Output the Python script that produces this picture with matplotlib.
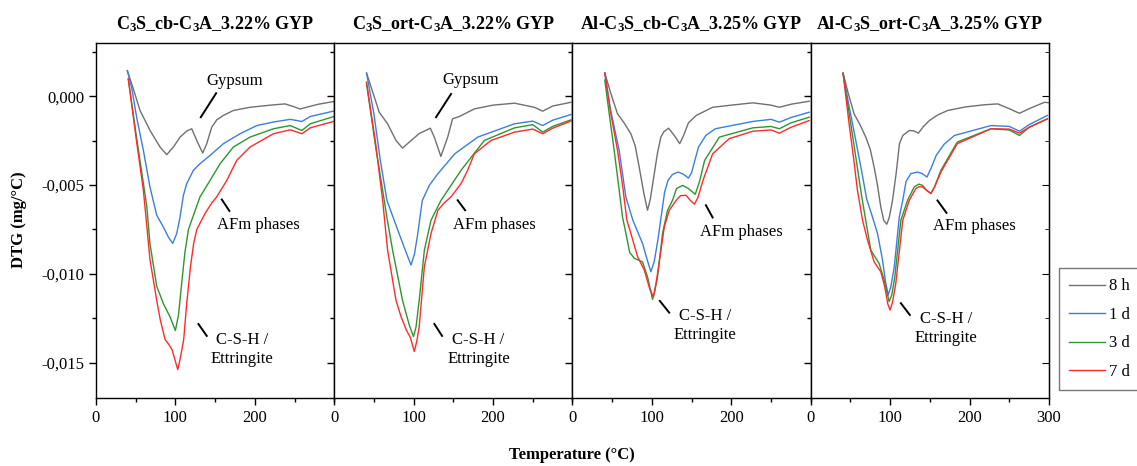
import numpy as np
import matplotlib
matplotlib.use("Agg")
from matplotlib import pyplot as plt
from matplotlib.ticker import MultipleLocator, FuncFormatter

plt.rcParams['font.family'] = ['Liberation Serif', 'DejaVu Serif']
plt.rcParams['mathtext.fontset'] = 'custom'
plt.rcParams['mathtext.rm'] = 'Liberation Serif:bold'
plt.rcParams['mathtext.it'] = 'Liberation Serif:bold'
plt.rcParams['mathtext.bf'] = 'Liberation Serif:bold'

# DTG curves, (temperature °C, DTG in 1e-3 mg/°C)
# panel 1: C3S_cb-C3A_3.22% GYP
p1_8h = [(39.5, 1.44), (47.1, 0.41), (55.5, -0.8), (68.1, -1.93), (80.7, -2.86), (89.1, -3.29),
         (97.5, -2.86), (105.9, -2.3), (114.3, -1.96), (120.6, -1.83), (126.9, -2.49), (134.4, -3.2),
         (139.5, -2.67), (145.8, -1.74), (152.1, -1.33), (160.5, -1.08), (173.1, -0.8), (194.1, -0.62),
         (220, -0.5), (238, -0.43), (250, -0.6), (257, -0.72), (265, -0.62), (280, -0.45), (299, -0.3)]
p1_1d = [(39.5, 1.44), (44.9, 0.51), (51.2, -1.18), (59.7, -3.05), (68, -5.11), (76.5, -6.7),
         (84.8, -7.36), (91, -7.92), (96.6, -8.29), (101.7, -7.73), (105.9, -6.8), (110, -5.6),
         (114.3, -4.92), (122.7, -4.17), (131, -3.8), (143.7, -3.33), (160.5, -2.67), (181.5, -2.11),
         (202.6, -1.65), (223.5, -1.45), (244.6, -1.3), (259.3, -1.42), (269.8, -1.14), (299, -0.84)]
p1_3d = [(40.7, 0.98), (51, -2.3), (59.7, -4.9), (64, -6.2), (68, -8.3), (76.5, -10.7), (85, -11.7),
         (93, -12.4), (100, -13.2), (104, -12.3), (108, -10.5), (112, -8.8), (116.5, -7.5), (122, -6.8),
         (131, -5.67), (143.7, -4.74), (156.3, -3.8), (173, -2.86), (194, -2.3), (223.5, -1.83),
         (244.6, -1.65), (259.3, -1.93), (269.8, -1.55), (299, -1.15)]
p1_7d = [(40.7, 0.98), (51, -2.5), (59.7, -5.3), (64, -7.3), (68, -9.2), (76.5, -11.5), (81, -12.6),
         (87, -13.7), (92, -14.0), (96, -14.3), (103, -15.4), (106, -14.8), (110.5, -13.7), (114, -11.8),
         (119, -9.6), (123, -8.3), (127, -7.5), (137.4, -6.6), (146, -6.0), (152, -5.67), (164.7, -4.74),
         (177.3, -3.61), (194, -2.86), (223.5, -2.11), (244.6, -1.89), (259.3, -2.11), (269.8, -1.78),
         (299, -1.42)]

# panel 2: C3S_ort-C3A_3.22% GYP
p2_8h = [(40.7, 1.31), (48, 0.3), (56.7, -0.9), (67.2, -1.55), (77.8, -2.49), (86, -2.92), (94.6, -2.58),
         (107, -2.1), (121, -1.8), (126, -2.3), (134.3, -3.39), (142.9, -2.3), (149, -1.27), (157.6, -1.14),
         (176.5, -0.71), (200, -0.5), (227, -0.39), (252, -0.62), (262.5, -0.84), (275, -0.55), (298, -0.34)]
p2_1d = [(40.7, 1.3), (50, -1.0), (58, -3.6), (66.4, -5.87), (75.6, -7.0), (88, -8.5), (96.7, -9.51),
         (101, -8.9), (105, -7.8), (110.9, -5.87), (120, -5.0), (130.6, -4.36), (151.8, -3.24),
         (180.8, -2.3), (227, -1.55), (250, -1.4), (262.5, -1.65), (275, -1.35), (298, -1.03)]
p2_3d = [(40.7, 0.7), (52, -2.8), (63, -5.87), (67, -7.0), (73.5, -8.67), (86, -11.5), (94.6, -12.9),
         (99.8, -13.54), (103, -13.0), (107, -11.5), (113.5, -8.67), (121.9, -6.98), (134.4, -5.87),
         (142.9, -5.3), (159.7, -4.17), (189, -2.49), (227, -1.78), (250, -1.6), (262.5, -2.02),
         (275, -1.7), (298, -1.33)]
p2_7d = [(40.7, 0.8), (52, -2.6), (61, -5.87), (67.2, -8.67), (77.8, -11.5), (84, -12.4), (90.7, -13.16),
         (96, -13.6), (100.8, -14.38), (104, -13.8), (107, -12.98), (113.5, -9.6), (121.9, -7.73),
         (130.6, -6.42), (138.7, -6.0), (147, -5.67), (159.7, -4.92), (168, -4.17), (176.5, -3.24),
         (197.4, -2.49), (227, -2.02), (250, -1.85), (262.5, -2.11), (275, -1.8), (298, -1.4)]

# panel 3: Al-C3S_cb-C3A_3.25% GYP
p3_8h = [(40.7, 1.31), (48, 0.2), (56.7, -0.99), (65, -1.5), (73.5, -2.11), (79, -2.8), (84, -3.99),
         (90, -5.5), (94.5, -6.42), (98, -5.8), (103, -4.36), (107, -3.2), (111.3, -2.3), (115, -2.0),
         (121, -1.8), (128, -2.2), (135.1, -2.67), (140, -2.2), (146, -1.5), (155.8, -1.08),
         (176.5, -0.62), (200, -0.5), (227, -0.37), (250, -0.5), (260.5, -0.62), (275, -0.45), (298, -0.28)]
p3_1d = [(40.7, 1.3), (48, -0.8), (58.8, -3.05), (67.2, -5.67), (76, -6.98), (88.2, -8.29), (94, -9.2),
         (98.7, -9.89), (103, -9.3), (107.5, -8.1), (112.8, -6.42), (116, -5.4), (120.3, -4.74),
         (126, -4.4), (133, -4.27), (140, -4.4), (146, -4.61), (150, -4.3), (158.6, -2.87), (168, -2.2),
         (180, -1.83), (227, -1.42), (250, -1.3), (260.5, -1.46), (275, -1.2), (298, -0.9)]
p3_3d = [(40.7, 0.92), (46, -0.9), (52.5, -3.05), (58, -5.0), (63, -6.8), (67.3, -7.73), (72, -8.8),
         (77.9, -9.13), (88.2, -9.33), (94.5, -10.17), (100.8, -11.44), (103.5, -11.0), (107.1, -10.17),
         (113.4, -7.73), (119.7, -6.42), (126, -5.86), (131, -5.2), (138.7, -5.02), (146, -5.2),
         (154.6, -5.52), (160, -4.8), (166.4, -3.61), (185, -2.3), (227, -1.78), (250, -1.7),
         (260.5, -1.83), (275, -1.5), (298, -1.18)]
p3_7d = [(40.7, 1.31), (48, -0.9), (56.7, -3.05), (63, -5.0), (68.5, -6.98), (73.5, -7.73), (82, -9.04),
         (90.4, -9.79), (97.6, -10.9), (101.9, -11.3), (105, -10.6), (108.4, -9.6), (115.6, -7.36),
         (121.9, -6.42), (130.6, -5.86), (136, -5.6), (143, -5.58), (148, -5.85), (153.5, -6.08),
         (158, -5.7), (164.3, -4.74), (176.5, -3.24), (197.4, -2.39), (227, -1.97), (250, -1.9),
         (260.5, -2.08), (275, -1.75), (298, -1.37)]

# panel 4: Al-C3S_ort-C3A_3.25% GYP
p4_8h = [(40.7, 1.31), (47, 0.2), (54.6, -0.99), (62, -1.6), (69.3, -2.3), (75, -3.0), (79.8, -3.99),
         (84, -5.0), (88.2, -6.24), (92, -7.0), (95.8, -7.21), (99, -6.8), (103, -5.86), (107.5, -4.36),
         (111.7, -2.67), (116, -2.2), (124.2, -1.93), (130, -1.95), (135.5, -2.08), (142, -1.7),
         (149.4, -1.37), (160, -1.05), (172.5, -0.8), (195, -0.6), (218.6, -0.48), (235.5, -0.43),
         (250, -0.7), (262.8, -0.96), (275, -0.7), (294.3, -0.34), (299, -0.36)]
p4_1d = [(40.7, 1.3), (48, -0.5), (56.7, -2.49), (64, -4.2), (70.5, -5.8), (77, -6.7), (84.1, -7.73),
         (90.4, -9.23), (94, -10.4), (97.6, -11.2), (101, -10.7), (105.2, -9.6), (111.5, -6.8),
         (115.9, -5.86), (120, -4.8), (126, -4.36), (134.6, -4.27), (140, -4.35), (146.4, -4.55),
         (152, -4.0), (158, -3.33), (168, -2.7), (180.9, -2.21), (227, -1.65), (250, -1.7),
         (262.8, -1.97), (275, -1.6), (298, -1.08)]
p4_3d = [(40.7, 1.26), (50.4, -1.55), (57, -3.5), (63, -5.3), (65, -5.86), (69.3, -7.0), (75.6, -8.67),
         (86.1, -9.42), (92.4, -10.35), (98.7, -11.57), (102, -11.2), (105.9, -10.17), (113.5, -6.98),
         (121.9, -5.86), (130.3, -5.11), (136, -4.95), (140.8, -5.02), (146, -5.3), (151.3, -5.48),
         (156, -5.1), (163.9, -4.17), (184.5, -2.58), (227, -1.83), (250, -1.9), (262.8, -2.21),
         (275, -1.75), (298, -1.27)]
p4_7d = [(40.7, 1.3), (48.3, -1.55), (54, -3.5), (58.8, -5.3), (61, -5.86), (65.2, -6.98), (71.5, -8.1),
         (79.8, -9.33), (88.2, -9.89), (93.2, -10.73), (97, -11.7), (99.9, -12.04), (103, -11.6),
         (107.1, -10.54), (115.9, -6.98), (124.1, -5.86), (132.4, -5.2), (136, -5.1), (140.8, -5.11),
         (146, -5.3), (151.3, -5.48), (156, -5.1), (163.9, -4.27), (184.5, -2.67), (227, -1.83),
         (250, -1.85), (262.8, -2.08), (275, -1.75), (298, -1.27)]

titles = ["C$_3$S_cb-C$_3$A_3.22% GYP", "C$_3$S_ort-C$_3$A_3.22% GYP",
          "Al-C$_3$S_cb-C$_3$A_3.25% GYP", "Al-C$_3$S_ort-C$_3$A_3.25% GYP"]
ages = ["8 h", "1 d", "3 d", "7 d"]
colors = ["#707070", "#3a7ee0", "#2e962e", "#ff2b2b"]
panels = [[p1_8h, p1_1d, p1_3d, p1_7d], [p2_8h, p2_1d, p2_3d, p2_7d],
          [p3_8h, p3_1d, p3_3d, p3_7d], [p4_8h, p4_1d, p4_3d, p4_7d]]

# annotations per panel: (text, text xy, leader start, leader end)
notes = [
    [("Gypsum", (175, 0.88), (151.3, 0.17), (132, -1.18)),
     ("AFm phases", (204, -7.26), (158.5, -5.82), (168, -6.46)),
     ("C-S-H /\nEttringite", (184, -14.25), (129, -12.83), (139.5, -13.5))],
    [("Gypsum", (172, 0.92), (147.1, 0.13), (128.2, -1.18)),
     ("AFm phases", (202, -7.26), (155.5, -5.86), (164.8, -6.42)),
     ("C-S-H /\nEttringite", (181.6, -14.26), (126.1, -12.83), (135.8, -13.5))],
    [("AFm phases", (212.7, -7.67), (168, -6.14), (176.5, -6.83)),
     ("C-S-H /\nEttringite", (166.4, -12.93), (110, -11.53), (121.8, -12.19))],
    [("AFm phases", (205.9, -7.3), (159.6, -5.87), (170.9, -6.57)),
     ("C-S-H /\nEttringite", (170.6, -13.1), (113.5, -11.66), (124.8, -12.32))],
]


def comma_fmt(v, pos):
    if abs(v) < 1e-12:
        v = 0.0
    return f"{v:.3f}".replace(".", ",")


fig, axes = plt.subplots(1, 4, figsize=(11.37, 4.66), dpi=100, sharey=True)
fig.subplots_adjust(left=0.0844, right=0.9226, top=0.9077, bottom=0.1459, wspace=0)

handles = []
for i, ax in enumerate(axes):
    for j, curve in enumerate(panels[i]):
        t = [p[0] for p in curve]
        v = [p[1] * 1e-3 for p in curve]
        ln, = ax.plot(t, v, color=colors[j], lw=1.0)
        if i == 0:
            handles.append(ln)
    for txt, xy, a, b in notes[i]:
        ax.text(xy[0], xy[1] * 1e-3, txt, ha="center", va="center", fontsize=12,
                linespacing=1.25)
        ax.plot([a[0], b[0]], [a[1] * 1e-3, b[1] * 1e-3], color="black", lw=1.4)

    ax.set_xlim(0, 300)
    ax.set_ylim(-0.017, 0.003)
    ax.xaxis.set_major_locator(MultipleLocator(100))
    ax.xaxis.set_minor_locator(MultipleLocator(50))
    ax.yaxis.set_major_locator(MultipleLocator(0.005))
    ax.yaxis.set_minor_locator(MultipleLocator(0.0025))
    ax.yaxis.set_major_formatter(FuncFormatter(comma_fmt))
    ax.tick_params(which="both", direction="out", labelsize=12, width=1, top=False)
    ax.tick_params(which="major", length=5)
    ax.tick_params(which="minor", length=3)
    if i < 3:
        ax.set_xticks([0, 100, 200])
    else:
        ax.set_xticks([0, 100, 200, 300])
        sec = ax.secondary_yaxis("right")
        sec.yaxis.set_major_locator(MultipleLocator(0.005))
        sec.yaxis.set_minor_locator(MultipleLocator(0.0025))
        sec.tick_params(which="both", direction="in", labelright=False)
        sec.tick_params(which="major", length=5)
        sec.tick_params(which="minor", length=3)
    if i > 0:
        ax.tick_params(axis="y", labelleft=False)
    for s in ax.spines.values():
        s.set_linewidth(1.0)
    ax.set_title(titles[i], fontsize=13, fontweight="bold", pad=10)

fig.text(0.017, 0.528, "DTG (mg/°C)", rotation=90, ha="center", va="center",
         fontsize=12, fontweight="bold")
fig.text(0.503, 0.024, "Temperature (°C)", ha="center", va="center",
         fontsize=12, fontweight="bold")

fig.legend(handles, ages, loc="upper left", bbox_to_anchor=(0.931, 0.424), fontsize=12,
           frameon=True, fancybox=False, edgecolor="#555555", handlelength=2.2,
           handletextpad=0.2, labelspacing=0.75, borderpad=0.6, borderaxespad=0)

fig.savefig("out.png", dpi=100)
